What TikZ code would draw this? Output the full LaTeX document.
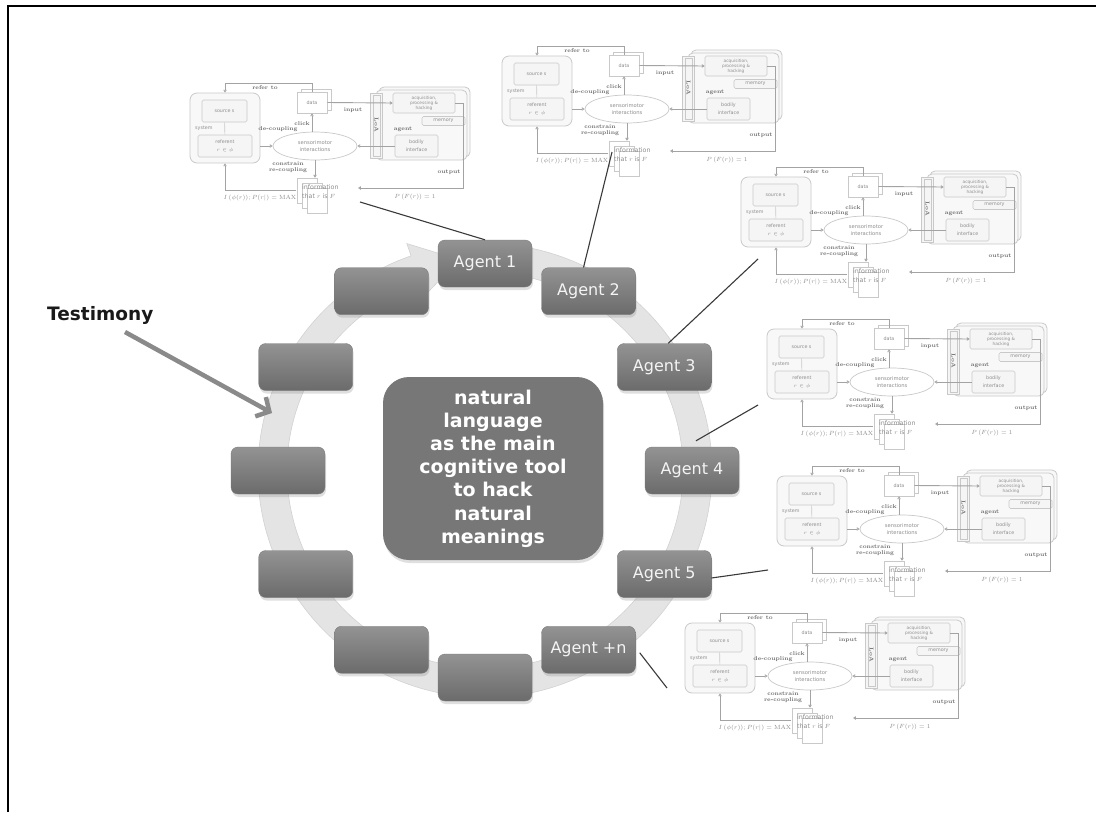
\documentclass[tikz,border=0pt]{standalone}
\usepackage{fontspec}
\newfontfamily\djv{DejaVu Sans}
\usetikzlibrary{shapes.geometric,arrows.meta,shadows,calc}
\definecolor{boxtop}{HTML}{939393}
\definecolor{boxbot}{HTML}{6B6B6B}
\definecolor{boxedge}{HTML}{7A7A7A}
\definecolor{agtext}{HTML}{F4F4F4}
\definecolor{cfill}{HTML}{777777}
\definecolor{ringc}{HTML}{E4E4E4}
\definecolor{ringedge}{HTML}{D2D2D2}
\definecolor{tline}{HTML}{C9C9C9}
\definecolor{tfill}{HTML}{F5F5F5}
\definecolor{tarrc}{HTML}{A3A3A3}
\definecolor{ttext}{HTML}{8E8E8E}
\definecolor{tlabc}{HTML}{6A6A6A}
\definecolor{connc}{HTML}{3A3A3A}
\definecolor{testc}{HTML}{8A8A8A}
\tikzset{
  tbox/.style={draw=tline, fill=tfill, rounded corners=1.5pt, line width=0.6pt, inner sep=1pt, text=ttext, font=\djv\fontsize{4.8}{5.4}\selectfont},
  tbig/.style={draw=tline, fill=tfill!70!white, rounded corners=7pt, line width=0.8pt},
  tpage/.style={draw=tline, fill=white, line width=0.6pt, inner sep=1pt, text=ttext, font=\djv\fontsize{4.8}{5.4}\selectfont},
  tell/.style={ellipse, draw=tline, fill=white, line width=0.7pt, inner sep=0pt, text=ttext, font=\djv\fontsize{5.2}{6.4}\selectfont},
  tsans/.style={text=ttext, inner sep=0pt, font=\djv\fontsize{4.8}{5.4}\selectfont},
  tlab/.style={text=tlabc, inner sep=0pt, font=\bfseries\fontsize{5.6}{6.2}\selectfont},
  tinfo/.style={text=ttext, inner sep=0pt, font=\djv\fontsize{6.3}{8.5}\selectfont},
  tit/.style={text=ttext, inner sep=0pt, font=\fontsize{6}{6.5}\selectfont},
  tarr/.style={draw=tarrc, line width=0.9pt, -{Triangle[open,length=2.8pt,width=3.4pt,line width=0.6pt]}},
  tln/.style={draw=tline, line width=0.6pt},
  agentbox/.style={rounded corners=7pt, minimum width=94pt, minimum height=47pt, top color=boxtop, bottom color=boxbot, draw=boxedge, line width=0.4pt, drop shadow={opacity=0.25, shadow xshift=1pt, shadow yshift=-3pt}, text=agtext, font=\djv\fontsize{16}{18}\selectfont, inner sep=0pt},
  cbox/.style={rounded corners=26pt, minimum width=220pt, minimum height=183pt, fill=cfill, drop shadow={opacity=0.25, shadow xshift=1pt, shadow yshift=-3pt}, text=white, font=\djv\bfseries\fontsize{19}{23.2}\selectfont, align=center, inner sep=0pt},
  conn/.style={draw=connc, line width=1.1pt},
  bigarrow/.style={draw=testc, line width=4.5pt, -{Straight Barb[length=10pt,width=22pt]}},
  thumb/.pic={
    \coordinate (tl) at (0,0);
    \node[tbig, minimum width=70pt, minimum height=70pt] (sys) at (35,45) {};
    \node[tsans, anchor=west] (syslab) at (5,45) {system};
    \node[tbox, minimum width=45pt, minimum height=22pt] (src) at (34.5,28) {source s};
    \node[tbox, minimum width=54pt, minimum height=22pt, align=center] (ref) at (35,63) {referent\\[2pt]$r \in \phi$};
    \draw[tln] (src) -- (ref);
    \node[tpage, minimum width=30pt, minimum height=21pt] (databack) at (126,16.5) {};
    \node[tpage, minimum width=30pt, minimum height=21pt] (data) at (122,19.5) {data};
    \node[tbig, rounded corners=5pt, minimum width=91pt, minimum height=70pt] (agback) at (234.5,39) {};
    \node[tbig, rounded corners=5pt, minimum width=91pt, minimum height=70pt] (agent) at (231.5,42) {};
    \node[tbox, rounded corners=0pt, minimum width=12pt, minimum height=65pt] (loa) at (186,42.5) {};
    \node[tbox, rounded corners=0pt, minimum width=7pt, minimum height=61pt] (loain) at (187,42.5) {};
    \node[tlab, rotate=270] (loalab) at (186.5,42) {LoA};
    \node[tbox, minimum width=62pt, minimum height=20pt, align=center, inner sep=0.5pt, font=\djv\fontsize{4.3}{5}\selectfont] (acq) at (234,20) {acquisition,\\processing \&\\hacking};
    \node[tbox, minimum width=43pt, minimum height=9pt, inner sep=0.5pt] (mem) at (253.5,38) {memory};
    \node[tlab] (aglab) at (213,46) {agent};
    \node[tbox, minimum width=43pt, minimum height=22pt, align=center] (bod) at (226.5,63) {bodily\\[3pt]interface};
    \node[tell, minimum width=84pt, minimum height=28pt, align=center] (ell) at (125,63) {sensorimotor\\interactions};
    \node[tpage, minimum width=20pt, minimum height=25pt] (pg1) at (117,107.5) {};
    \node[tpage, minimum width=20pt, minimum height=25pt] (pg2) at (122,112.5) {};
    \node[tpage, minimum width=20pt, minimum height=25pt] (pg3) at (127,117.5) {};
    \node[tinfo, anchor=west, align=left] (info) at (112,108.5) {information\\that $r$ is $F$};
    \draw[tarr] (data.north) |- (sys.north |- tl) -- (sys.north);
    \node[tlab] (lrefer) at (75,5) {refer to};
    \draw[tarr] (data.east) -- (acq.west);
    \node[tlab] (linput) at (163,27) {input};
    \draw[tarr] (data.south |- ell.north) -- (data.south);
    \node[tlab] (lclick) at (112,41) {click};
    \node[tlab] (ldec) at (88,46.5) {de-coupling};
    \draw[tarr] (sys.east |- ell.west) -- (ell.west);
    \draw[tarr] (bod.west) -- (ell.east);
    \draw[tarr] (ell.south) -- (ell.south |- pg1.north);
    \node[tlab, align=center] (lcon) at (98,84.5) {constrain\\re-coupling};
    \coordinate (oc) at (273,105);
    \coordinate (oe) at (168,105);
    \draw[tarr] (acq.east) -| (oc) -- (oe);
    \node[tlab] (lout) at (259,89) {output};
    \node[tit] (lp) at (225,114) {$P\,(F(r)) = 1$};
    \coordinate (lc) at (106,107);
    \draw[tarr] (lc) -| (sys.south);
    \node[tit] (li) at (70,115) {$I\,(\phi(r)); P(r|) = \mathrm{MAX}$};
  }
}
\begin{document}
\begin{tikzpicture}[x=1pt,y=-1pt]
\useasboundingbox (0,0) rectangle (1096,812);
\fill[white] (0,0) rectangle (1096,812);
\draw[line width=2pt, black] (8,812) -- (8,6) -- (1096,6);

% thumbnails
\pic (t1) at (190,83) {thumb};
\pic (t2) at (502,46) {thumb};
\pic (t3) at (741,167) {thumb};
\pic (t4) at (767,319) {thumb};
\pic (t5) at (777,466) {thumb};
\pic (t6) at (685,613) {thumb};

% ring with arrowhead
\coordinate (C) at (485,470.5);
\filldraw[fill=ringc, draw=ringedge, line width=0.6pt]
  ($(C)+(-82:227)$) arc[start angle=-82, end angle=251, radius=227]
  -- ($(C)+(251:240)$) -- ($(C)+(263:212.5)$) -- ($(C)+(251:185)$)
  -- ($(C)+(251:198)$) arc[start angle=251, end angle=-82, radius=198] -- cycle;

% boxes around the ring
\node[agentbox] (a1) at ($(C)+(-90:207)$) {Agent 1};
\node[agentbox] (a2) at ($(C)+(-60:207)$) {Agent 2};
\node[agentbox] (a3) at ($(C)+(-30:207)$) {Agent 3};
\node[agentbox] (a4) at ($(C)+(0:207)$) {Agent 4};
\node[agentbox] (a5) at ($(C)+(30:207)$) {Agent 5};
\node[agentbox] (a6) at ($(C)+(60:207)$) {Agent +n};
\node[agentbox] (b1) at ($(C)+(90:207)$) {};
\node[agentbox] (b2) at ($(C)+(120:207)$) {};
\node[agentbox] (b3) at ($(C)+(150:207)$) {};
\node[agentbox] (b4) at ($(C)+(180:207)$) {};
\node[agentbox] (b5) at ($(C)+(210:207)$) {};
\node[agentbox] (b6) at ($(C)+(240:207)$) {};

% central box
\node[cbox] (core) at (493,468.5) {natural\\language\\as the main\\cognitive tool\\to hack\\natural\\meanings};

% connectors to thumbnails
\coordinate (c1) at (360,202);
\coordinate (c2) at (612,152);
\coordinate (c3) at (758,259);
\coordinate (c4) at (758,405);
\coordinate (c5) at (768,570);
\coordinate (c6) at (667,688);
\draw[conn] (a1.north) -- (c1);
\draw[conn] ([xshift=-5pt]a2.north) -- (c2);
\draw[conn] ([xshift=4pt]a3.north) -- (c3);
\draw[conn] ([xshift=4pt,yshift=6pt]a4.north) -- (c4);
\draw[conn] ([yshift=-4pt]a5.east) -- (c5);
\draw[conn] ([xshift=4pt,yshift=-3pt]a6.east) -- (c6);

% testimony
\node[font=\djv\bfseries\fontsize{18.5}{20}\selectfont, text=black!90, anchor=base west, inner sep=0pt] (testi) at (47,320) {Testimony};
\coordinate (ts) at (125,332);
\coordinate (te) at (272,413);
\draw[bigarrow] (ts) -- (te);
\end{tikzpicture}
\end{document}
